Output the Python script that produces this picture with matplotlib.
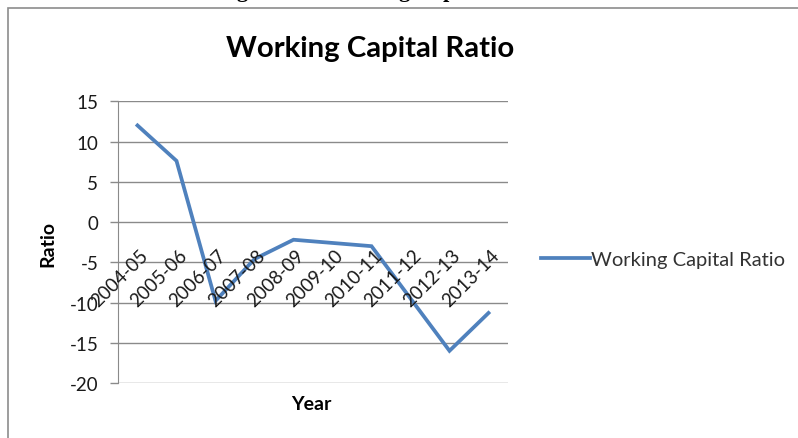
import matplotlib
matplotlib.use("Agg")
import matplotlib.pyplot as plt
from matplotlib.patches import Rectangle
from matplotlib.transforms import offset_copy

# ---- data ----
years = ["2004-05", "2005-06", "2006-07", "2007-08", "2008-09",
         "2009-10", "2010-11", "2011-12", "2012-13", "2013-14"]
wc_ratio = [12.0, 7.6, -9.8, -4.6, -2.2, -2.6, -3.0, -9.5, -16.0, -11.3]
y_ticks = [15, 10, 5, 0, -5, -10, -15, -20]

W, H = 798, 439
plt.rcParams['font.family'] = ['Lato', 'DejaVu Sans']
plt.rcParams['axes.unicode_minus'] = False

fig = plt.figure(figsize=(W / 100, H / 100), dpi=100)
fig.patch.set_facecolor('white')

# chart frame (runs off the right and bottom edge)
fig.patches.append(Rectangle((7.5 / W, -0.05), 1.1, 1 - 8.5 / H + 0.05,
                             transform=fig.transFigure, fill=False,
                             edgecolor='#8c8c8c', linewidth=1.2))

# caption of the page above the chart, mostly cut off
fig.text(217 / W, 1 + 2.5 / H, "Figure 4.4: Working Capital Ratio",
         family='Liberation Serif', fontweight='bold', fontsize=16,
         va='baseline', ha='left', color='black')

ax = fig.add_axes([118 / W, 1 - 384 / H, (508 - 118) / W, (384 - 102.3) / H])
x = list(range(len(years)))
ax.plot(x, wc_ratio, color='#4f81bd', linewidth=2.7,
        solid_joinstyle='miter', label='Working Capital Ratio')

ax.set_xlim(-0.5, len(years) - 0.5)
ax.set_ylim(-20, 15)
ax.set_yticks(y_ticks)
ax.yaxis.grid(True, color='#8a8a8a', linewidth=1.0)
ax.set_axisbelow(True)
for s in ['top', 'right', 'bottom']:
    ax.spines[s].set_visible(False)
ax.spines['left'].set_color('#8a8a8a')
ax.tick_params(axis='y', length=5.8, width=1.0, color='#8a8a8a',
               labelsize=13.5, labelcolor='#1a1a1a', pad=8.4)
ax.set_xticks([])

# category labels hang under the zero line, rotated 45 degrees
lab_tr = offset_copy(ax.transData, fig=fig, x=8, y=-30, units='dots')
for i, lab in enumerate(years):
    ax.text(i, 0, lab, transform=lab_tr, rotation=45, rotation_mode='anchor',
            ha='right', va='center', fontsize=13.5, color='#1a1a1a')

fig.text(48 / W, 1 - 244 / H, "Ratio", rotation=90, fontweight='bold',
         fontsize=14, ha='center', va='center', color='black')
fig.text(311 / W, 1 - 405 / H, "Year", fontweight='bold',
         fontsize=14, ha='center', va='center', color='black')

fig.text(370 / W, 1 - 49 / H, "Working Capital Ratio", fontweight='bold',
         fontsize=21.2, ha='center', va='center', color='black')

fig.legend(loc='center left', bbox_to_anchor=(541 / W, 1 - 260 / H),
           frameon=False, borderpad=0, borderaxespad=0, handlelength=2.45,
           handletextpad=0.05, fontsize=14.5, labelcolor='#333333')

fig.savefig("out.png", dpi=100)
